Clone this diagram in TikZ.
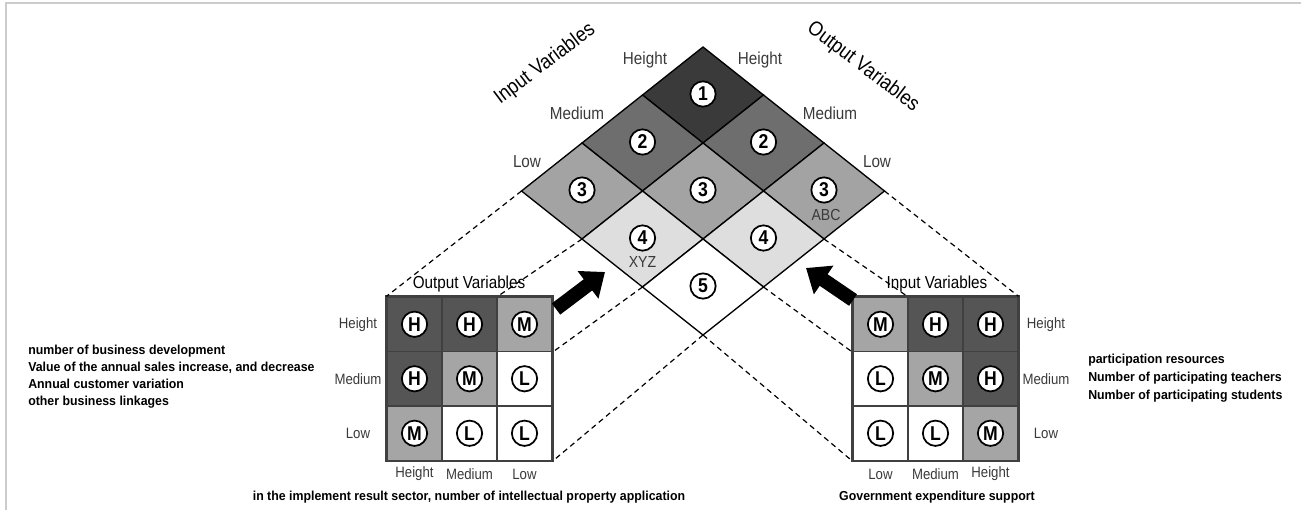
\documentclass[tikz,border=0pt]{standalone}
\usepackage{fontspec}
\setmainfont{Liberation Sans}
\newfontfamily\cond[FakeStretch=0.88]{Liberation Sans}
\newfontfamily\condb[FakeStretch=0.95]{Liberation Sans}
\usetikzlibrary{arrows.meta,calc}
\definecolor{d1}{HTML}{3A3A3A}
\definecolor{d2}{HTML}{6E6E6E}
\definecolor{d3}{HTML}{A3A3A3}
\definecolor{d4}{HTML}{DEDEDE}
\definecolor{d5}{HTML}{FFFFFF}
\definecolor{gH}{HTML}{555555}
\definecolor{gM}{HTML}{A5A5A5}
\definecolor{gL}{HTML}{FFFFFF}
\definecolor{lblc}{HTML}{3A3A3A}
\definecolor{framec}{HTML}{CCCCCC}
\begin{document}
\begin{tikzpicture}[x=0.75pt,y=-0.75pt,
  lbl/.style={font=\cond\fontsize{13}{13}\selectfont, text=lblc, inner sep=0},
  glbl/.style={font=\cond\fontsize{11.25}{11.25}\selectfont, text=lblc, inner sep=0},
  vlbl/.style={font=\cond\fontsize{15.5}{15.5}\selectfont, text=black, inner sep=0},
  glab/.style={font=\cond\fontsize{13}{13}\selectfont, text=black, inner sep=0},
  num/.style={circle, draw=black, fill=white, line width=1.3pt, minimum size=19pt, inner sep=0,
              font=\cond\bfseries\fontsize{15}{15}\selectfont},
  sub/.style={font=\cond\fontsize{12}{12}\selectfont, text=lblc, inner sep=0},
  info/.style={font=\condb\bfseries\fontsize{9.75}{12.75}\selectfont, inner sep=0, align=left},
  gcell/.style={draw=black!75, line width=0.9pt, minimum width=41.25pt, minimum height=40.9pt, inner sep=0},
  conn/.style={dashed, line width=0.9pt, dash pattern=on 4pt off 3pt},
  bigarrow/.style={line width=10.5pt, -{Triangle[length=16pt,width=25pt]}}
]
\useasboundingbox (0,0) rectangle (1301,510);
\draw[framec, line width=0.9pt] (6,510) -- (6,3) -- (1301,3);

% diamond grid
\coordinate (A) at (703,47);
\foreach \i in {0,...,3}{\foreach \j in {0,...,3}{
  \coordinate (p\i\j) at ($(A)+\i*(-60.5,48)+\j*(60.5,48)$);}}
\foreach \i in {0,1,2}{\foreach \j in {0,1,2}{
  \pgfmathtruncatemacro\ii{\i+1}\pgfmathtruncatemacro\jj{\j+1}\pgfmathtruncatemacro\n{\i+\j+1}
  \filldraw[fill=d\n, draw=black, line width=1pt] (p\i\j) -- (p\ii\j) -- (p\ii\jj) -- (p\i\jj) -- cycle;
  \coordinate (c\i\j) at ($(p\i\j)!0.5!(p\ii\jj)$);
}}
\foreach \i in {0,1,2}{\foreach \j in {0,1,2}{
  \pgfmathtruncatemacro\n{\i+\j+1}
  \node[num] (n\i\j) at ($(c\i\j)+(0,-1)$) {\n};
}}
\node[sub] (abc) at ($(n02)+(2,25)$) {ABC};
\node[sub] (xyz) at ($(n21)+(0,24)$) {XYZ};

% diamond labels
\node[lbl] (lh) at (645,60) {Height};
\node[lbl] (lm) at (577,113) {Medium};
\node[lbl] (ll) at (527,162) {Low};
\node[lbl] (rh) at (760,60) {Height};
\node[lbl] (rm) at (830,113) {Medium};
\node[lbl] (rl) at (877,162) {Low};
\node[vlbl, rotate=37] (iv) at (545,64) {Input Variables};
\node[vlbl, rotate=-37] (ov) at (863,67) {Output Variables};

% grids
\def\LX{387}\def\RX{853}\def\GY{297}
\foreach \r/\a/\b/\c in {0/H/H/M,1/H/M/L,2/M/L/L}{
  \foreach \col/\v in {0/\a,1/\b,2/\c}{
    \node[gcell, fill=g\v] (L\r\col) at (\LX+27.5+55*\col, \GY+27.25+54.5*\r) {};
    \node[num] (Ln\r\col) at (L\r\col) {\v};
  }}
\foreach \r/\a/\b/\c in {0/M/H/H,1/L/M/H,2/L/L/M}{
  \foreach \col/\v in {0/\a,1/\b,2/\c}{
    \node[gcell, fill=g\v] (R\r\col) at (\RX+27.5+55*\col, \GY+27.25+54.5*\r) {};
    \node[num] (Rn\r\col) at (R\r\col) {\v};
  }}
\draw[black!75, line width=1.4pt] (L00.north west) rectangle (L22.south east);
\draw[black!75, line width=1.4pt] (R00.north west) rectangle (R22.south east);

% dashed connectors
\draw[conn] (p30) -- (L00.north west);
\draw[conn] (p31) -- (L01.north east);
\draw[conn] (p32) -- (L02.south east);
\draw[conn] (p33) -- (L22.south east);
\draw[conn] (p03) -- (R02.north east);
\draw[conn] (p13) -- (R01.north west);
\draw[conn] (p23) -- (R00.south west);
\draw[conn] (p33) -- (R20.south west);

% grid labels
\node[glab] (lgt) at (469,284) {Output Variables};
\node[glab] (rgt) at (937,284) {Input Variables};
\foreach \r/\t in {0/Height,1/Medium,2/Low}{
  \node[glbl] at (358, \GY+27.25+54.5*\r) {\t};
  \node[glbl] at (1046, \GY+27.25+54.5*\r) {\t};
}
\foreach \col/\t in {0/Height,1/Medium,2/Low}{
  \node[glbl] at (\LX+27.5+55*\col, 474) {\t};
}
\foreach \col/\t in {0/Low,1/Medium,2/Height}{
  \node[glbl] at (\RX+27.5+55*\col, 474) {\t};
}

% big arrows
\coordinate (la1) at (556,309); \coordinate (la2) at (605,272);
\coordinate (ra1) at (853,300); \coordinate (ra2) at (806,268);
\draw[bigarrow] (la1) -- (la2);
\draw[bigarrow] (ra1) -- (ra2);

% info texts
\node[info, anchor=north west] (linfo) at (28,345) {number of business development\\Value of the annual sales increase, and decrease\\Annual customer variation\\other business linkages};
\node[info, anchor=north west, font=\condb\bfseries\fontsize{9.75}{13.5}\selectfont] (rinfo) at (1088,354) {participation resources\\Number of participating teachers\\Number of participating students};
\node[info] (lbot) at (469,497) {in the implement result sector, number of intellectual property application};
\node[info] (rbot) at (937,497) {Government expenditure support};
\end{tikzpicture}
\end{document}
